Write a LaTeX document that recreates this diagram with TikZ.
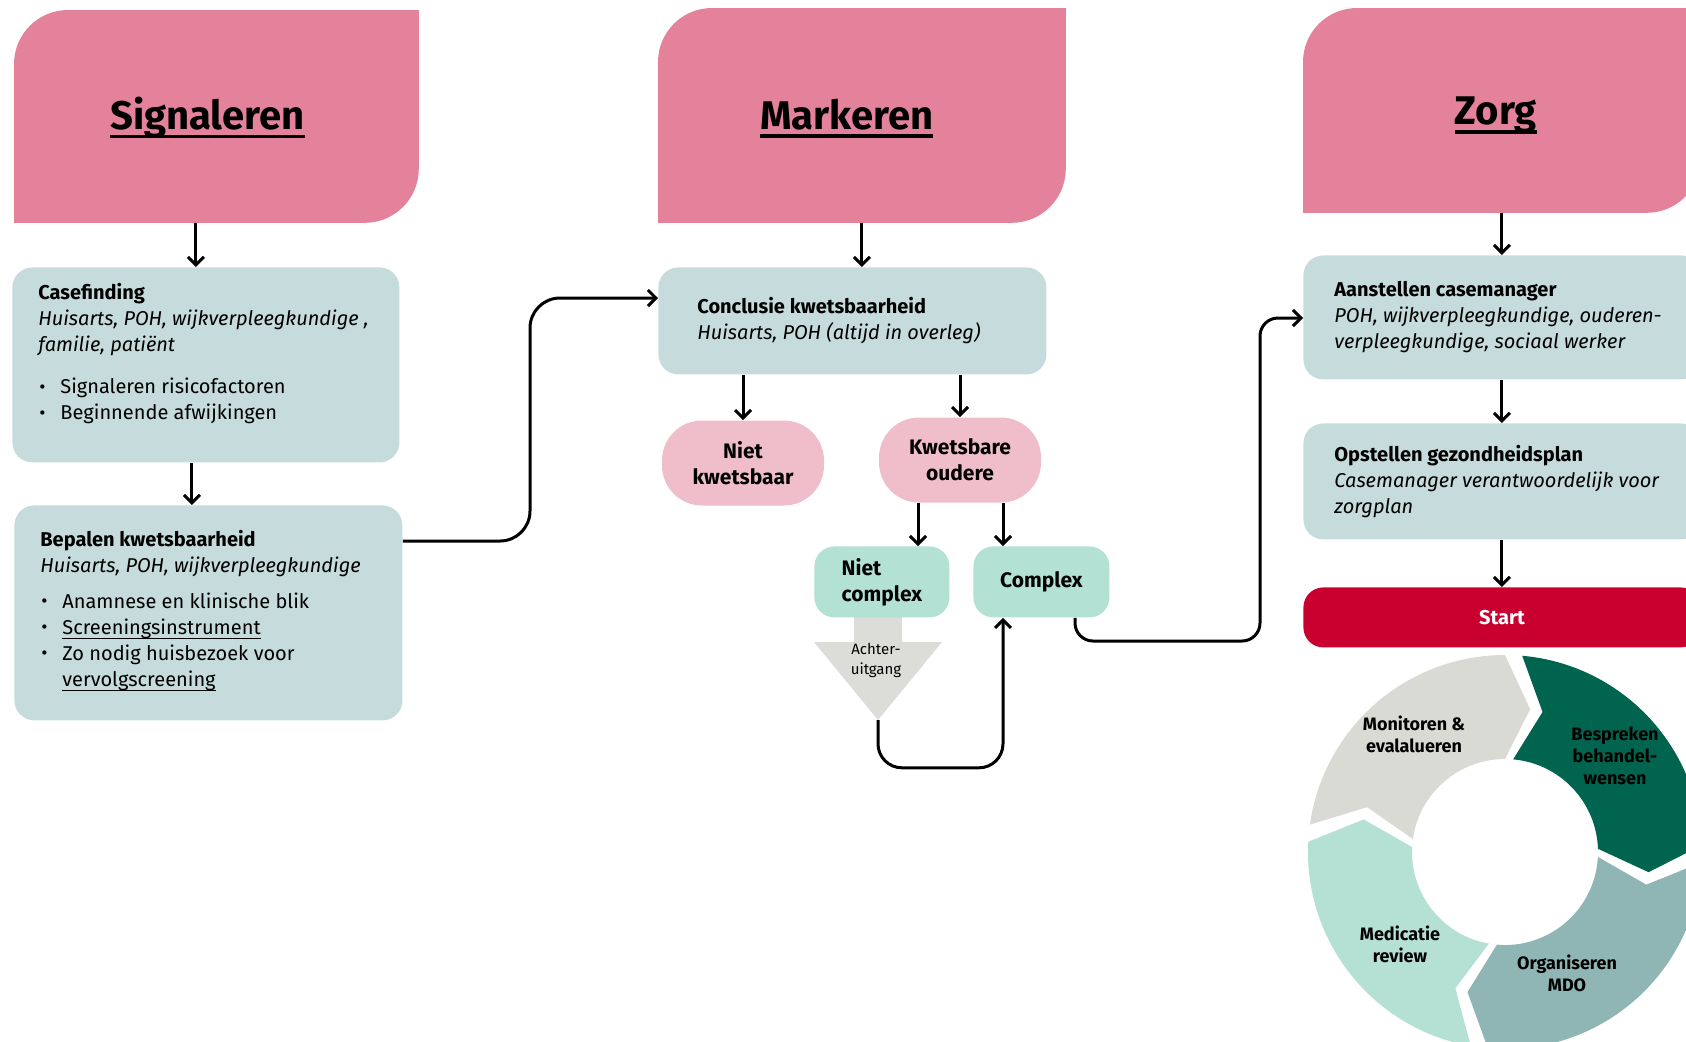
\documentclass[tikz,border=0pt]{standalone}
\usepackage{fontspec}
\setmainfont{Fira Sans}
\usetikzlibrary{arrows.meta,calc,backgrounds}

\definecolor{roze}{HTML}{E3829A}
\definecolor{blokgrijs}{HTML}{C6DBDB}
\definecolor{lichtroze}{HTML}{F0BECA}
\definecolor{munt}{HTML}{B3E1D3}
\definecolor{pijlgrijs}{HTML}{DCDCD8}
\definecolor{startrood}{HTML}{C9002F}
\definecolor{ringgrijs}{HTML}{DADAD5}
\definecolor{ringgroen}{HTML}{00644F}
\definecolor{ringteal}{HTML}{8FB5B5}
\definecolor{ringmint}{HTML}{B5E0D4}

\newcommand\kopje[3]{\hspace*{-#1}\sbox0{#3}\raisebox{-#2}[\ht0][4.5pt]{\rlap{\usebox0}\rule[-4.5pt]{\wd0}{1.8pt}}\hspace*{#1}}
\newcommand\ond[1]{\sbox0{#1}\rlap{\usebox0}\rule[-2.2pt]{\wd0}{0.5pt}}
\newcommand\punt[1]{\par\noindent\hangindent=11pt\hangafter=1\makebox[11pt][l]{\kern0.5pt\raisebox{0.3pt}{\scalebox{0.95}{\textbullet}}}#1}
\newcommand\vak[4][c]{\begin{minipage}[c][#3][#1]{#2}\raggedright #4\end{minipage}}

\tikzset{
  kop/.style={anchor=north west, inner sep=0pt, font=\fontsize{20}{24}\selectfont\bfseries},
  blok/.style={anchor=north west, fill=blokgrijs, rounded corners=10pt, inner xsep=13pt, inner ysep=8pt},
  keuze/.style={fill=lichtroze, rounded corners=20pt, minimum width=81pt, minimum height=42.5pt,
    align=center, font=\fontsize{10.5}{13}\selectfont\bfseries},
  uitkomst/.style={anchor=north west, fill=munt, rounded corners=10pt, minimum height=35.5pt,
    align=left, font=\fontsize{10.5}{13}\selectfont\bfseries},
  pijl/.style={line width=1.5pt, -{Straight Barb[length=4pt,width=8pt]}},
  ringtekst/.style={align=center, font=\fontsize{9}{11}\selectfont\bfseries},
}

\begin{document}
\begin{tikzpicture}[x=0.5pt, y=-0.5pt, font=\fontsize{10}{13}\selectfont]
\useasboundingbox (0,0) rectangle (1686,1041);

% koppen
\node[kop, minimum width=202pt, minimum height=106pt] (sig) at (14,10) {\kopje{4.5pt}{0.5pt}{Signaleren}};
\node[kop, minimum width=203.5pt, minimum height=107pt] (mark) at (658,8) {\kopje{7.5pt}{1.5pt}{Markeren}};
\node[kop, minimum width=198.5pt, minimum height=102pt] (zorg) at (1303,8) {\kopje{3pt}{2.5pt}{Zorg}};
\begin{scope}[on background layer]
  \foreach \k in {sig,mark,zorg}{
    \fill[roze, rounded corners=27pt] (\k.south west) rectangle (\k.north east);
    \fill[roze] (\k.south west) rectangle (\k.center);
    \fill[roze] (\k.north east) rectangle (\k.center);
  }
\end{scope}

% signaleren
\node[blok] (case) at (12,267) {\vak[t]{167.5pt}{81.5pt}{%
  {\bfseries Casefinding}\\
  {\itshape Huisarts, POH, wijkverpleegkundige ,\\familie, pati\"ent}\par\vspace{8pt}
  \punt{Signaleren risicofactoren}
  \punt{Beginnende afwijkingen}}};
\node[blok] (bep) at (14,505) {\vak{168pt}{91.5pt}{%
  {\bfseries Bepalen kwetsbaarheid}\\
  {\itshape Huisarts, POH, wijkverpleegkundige}\par\vspace{5pt}
  \punt{Anamnese en klinische blik}
  \punt{\ond{Screeningsinstrument}}
  \punt{Zo nodig huisbezoek voor\newline\ond{vervolgscreening}}\par
  \vspace{2.5pt}\hrule height 0pt}};

% markeren
\node[blok, inner xsep=19.5pt] (concl) at (658,267) {\vak{155pt}{37.5pt}{%
  {\bfseries Conclusie kwetsbaarheid}\\
  {\itshape Huisarts, POH (altijd in overleg)}}};
\node[keuze] (nkw) at (743,463) {Niet\\kwetsbaar};
\node[keuze] (kwo) at (960,460) {Kwetsbare\\oudere};
\fill[pijlgrijs] (854,610) -- (902,610) -- (902,642) -- (942,642) -- (878,720)
  -- (814,642) -- (854,642) -- cycle;
\coordinate (achterpunt) at (878,720);
\node[uitkomst, minimum width=67.5pt] (ncx) at (814,546) {Niet\\complex};
\node[uitkomst, minimum width=68pt, align=center] (cx) at (973,546) {Complex};
\node[font=\fontsize{7.5}{10}\selectfont, align=center] (achter) at (876,660) {Achter-\\uitgang};

% zorg
\node[blok, inner xsep=15.5pt] (aan) at (1303,255) {\vak{167.5pt}{46pt}{%
  {\bfseries Aanstellen casemanager}\\
  {\itshape POH, wijkverpleegkundige, ouderen-\\verpleegkundige, sociaal werker}}};
\node[blok, inner xsep=15.5pt] (opst) at (1303,423) {\vak{167.5pt}{42pt}{%
  {\bfseries Opstellen gezondheidsplan}\\
  {\itshape Casemanager verantwoordelijk voor\\zorgplan}}};
\node[anchor=north west, fill=startrood, rounded corners=10pt, minimum width=198.5pt,
  minimum height=30pt, text=white, font=\fontsize{10}{12}\selectfont\bfseries] (start) at (1303,587) {Start};

% cyclus
\coordinate (ring) at (1505,852);
\foreach \a/\h/\kl in {167/80/ringgrijs, 80/-8/ringgroen, -8/-105/ringteal, -105/-193/ringmint}
  \fill[\kl] ($(ring)+(\a+5:98.5pt)$) arc[start angle=\a+5, end angle=\h+10, radius=98.5pt]
    -- ($(ring)+(\h:72.5pt)$) -- ($(ring)+(\h+10:46.5pt)$)
    arc[start angle=\h+10, end angle=\a+5, radius=46.5pt]
    -- ($(ring)+(\a-5:72.5pt)$) -- cycle;
\node[ringtekst] (monitor) at (1414,734) {Monitoren \&\\evalalueren};
\node[ringtekst] (bespreek) at (1615,756) {Bespreken\\behandel-\\wensen};
\node[ringtekst] (medicatie) at (1400,944) {Medicatie\\review};
\node[ringtekst] (organis) at (1567,973) {Organiseren\\MDO};

% pijlen
\draw[pijl] ([xshift=-5pt]case.north |- sig.south) -- ([xshift=-5pt]case.north);
\draw[pijl] ([xshift=-7pt]case.south) -- ([xshift=-7pt]case.south |- bep.north);
\draw[pijl] (mark.south) -- (mark.south |- concl.north);
\draw[pijl] (nkw.north |- concl.south) -- (nkw.north);
\draw[pijl] (kwo.north |- concl.south) -- (kwo.north);
\draw[pijl] ([xshift=-21pt]kwo.south) -- ([xshift=-21pt]kwo.south |- ncx.north);
\draw[pijl] ([xshift=21.5pt]kwo.south) -- ([xshift=21.5pt]kwo.south |- cx.north);
\draw[pijl] (zorg.south) -- (zorg.south |- aan.north);
\draw[pijl] (aan.south) -- (aan.south |- opst.north);
\draw[pijl] (opst.south) -- (opst.south |- start.north);
\draw[pijl, rounded corners=15pt] ($(bep.north east)+(0,36)$) -| ($(concl.north west)+(-128,100)$)
  |- ($(concl.north west)+(0,31)$);
\draw[pijl, rounded corners=12pt] (achterpunt) |- ($(cx.south west)+(30,150)$) -- ($(cx.south west)+(30,0)$);
\draw[pijl, rounded corners=9pt] ($(cx.south west)+(102,0)$) |- ($(aan.north west)+(-43,386)$)
  |- ($(aan.north west)+(0,63)$);
\end{tikzpicture}
\end{document}
